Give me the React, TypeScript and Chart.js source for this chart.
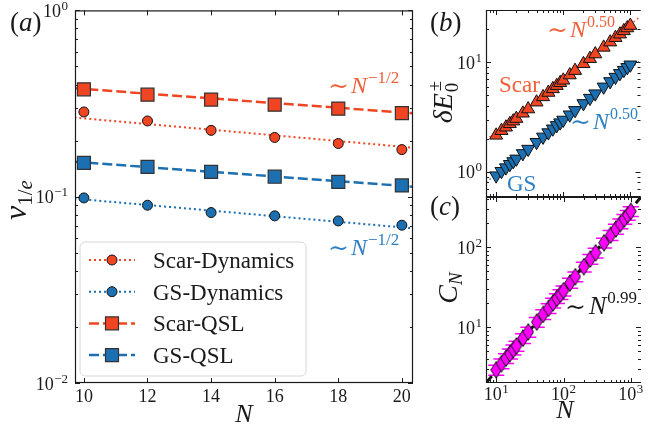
import React, { useEffect, useRef } from 'react';
import { Chart, registerables } from 'chart.js';
Chart.register(...registerables);

const W = 649;
const H = 433;
const ORANGE = '#ef4523';
const BLUE = '#1c6fb0';
const ORANGE_TXT = '#f0603a';
const BLUE_TXT = '#2f80c2';
const MAGENTA = '#ff00ff';
const INK = '#1a1a1a';
const SERIF = '"Liberation Serif", "DejaVu Serif", serif';
const SYM = '"DejaVu Serif", serif';

// ---------- panel (a) data ----------
const N_A = [10, 12, 14, 16, 18, 20];
const SCAR_DYN = [0.285, 0.255, 0.227, 0.208, 0.193, 0.179];
const GS_DYN = [0.0985, 0.09, 0.0822, 0.0789, 0.0741, 0.0703];
const SCAR_QSL = [0.377, 0.353, 0.332, 0.312, 0.297, 0.281];
const GS_QSL = [0.152, 0.1445, 0.136, 0.128, 0.12, 0.115];
const FIT_X_A = [9.7, 20.4];
const SCAR_DYN_FIT = [0.266, 0.183];
const GS_DYN_FIT = [0.0977, 0.0675];
const SCAR_QSL_FIT = [0.382, 0.28];
const GS_QSL_FIT = [0.154, 0.113];
const A_TICKS_X = [10, 12, 14, 16, 18, 20];
const A_TICKS_Y = [1, 0.1, 0.01];
const A_TICK_EXP = ['0', '−1', '−2'];
const LEGEND_LABELS = ['Scar-Dynamics', 'GS-Dynamics', 'Scar-QSL', 'GS-QSL'];

// ---------- panels (b), (c) data ----------
const N_BC = [10, 12, 14, 16, 18, 20, 25, 30, 40, 50, 60, 70, 80, 90, 100, 125, 150, 200, 250, 300, 400, 500, 600, 700, 800, 900, 1000];
const SCAR_GAP = [2.15, 2.37, 2.55, 2.74, 2.9, 3.06, 3.42, 3.74, 4.32, 4.83, 5.3, 5.72, 6.12, 6.5, 6.85, 7.65, 8.4, 9.7, 10.8, 11.9, 13.7, 15.3, 16.8, 18.1, 19.4, 20.6, 21.7];
const GS_GAP = [0.92, 1.01, 1.09, 1.17, 1.24, 1.31, 1.47, 1.61, 1.86, 2.08, 2.28, 2.47, 2.65, 2.81, 2.97, 3.32, 3.64, 4.21, 4.71, 5.17, 5.97, 6.69, 7.33, 7.93, 8.48, 9.0, 9.5];
const C_N = [2.93, 3.52, 4.1, 4.68, 5.25, 5.85, 7.3, 8.75, 11.6, 14.5, 17.3, 20.2, 23.0, 25.9, 28.7, 35.9, 43.0, 57.2, 71.4, 85.5, 114, 142, 170, 198, 226, 254, 282];
const C_N_ERR = [0.41, 0.49, 0.57, 0.66, 0.74, 0.82, 1.02, 1.23, 1.62, 2.03, 2.42, 2.83, 3.22, 3.63, 4.02, 5.03, 6.02, 8.0, 10.0, 12.0, 16.0, 19.9, 23.8, 27.7, 31.6, 35.6, 39.5];
const FIT_X_BC = [7.06, 1416];
const SCAR_GAP_FIT = [1.95, 26.3];
const GS_GAP_FIT = [0.8, 10.4];
const C_N_FIT = [2.01, 426];
const BC_TICKS_X = [10, 100, 1000];
const BC_TICK_EXP = ['1', '2', '3'];
const B_TICKS_Y = [1, 10];
const B_TICK_EXP = ['0', '1'];
const C_TICKS_Y = [10, 100];
const C_TICK_EXP = ['1', '2'];

type Part = { t: string; size: number; it?: boolean; dy?: number; dx?: number; stack?: boolean; fam?: string };

const fontOf = (p: Part) => `${p.it ? 'italic ' : ''}${p.size}px ${p.fam || SERIF}`;

function measureRich(ctx: CanvasRenderingContext2D, parts: Part[]) {
  let w = 0;
  let x = 0;
  for (const p of parts) {
    ctx.font = fontOf(p);
    x += p.dx || 0;
    const pw = ctx.measureText(p.t).width;
    w = Math.max(w, x + pw);
    if (!p.stack) x += pw;
  }
  return w;
}

function drawRich(ctx: CanvasRenderingContext2D, parts: Part[], x: number, y: number, align: 'left' | 'center' | 'right', color: string) {
  const w = measureRich(ctx, parts);
  let cx = align === 'left' ? x : align === 'center' ? x - w / 2 : x - w;
  ctx.save();
  ctx.fillStyle = color;
  ctx.textAlign = 'left';
  ctx.textBaseline = 'alphabetic';
  for (const p of parts) {
    ctx.font = fontOf(p);
    cx += p.dx || 0;
    ctx.fillText(p.t, cx, y + (p.dy || 0));
    if (!p.stack) cx += ctx.measureText(p.t).width;
  }
  ctx.restore();
}

function drawRotated(ctx: CanvasRenderingContext2D, parts: Part[], x: number, y: number, color: string) {
  ctx.save();
  ctx.translate(x, y);
  ctx.rotate(-Math.PI / 2);
  drawRich(ctx, parts, 0, 0, 'center', color);
  ctx.restore();
}

function logMinor(min: number, max: number) {
  const out: number[] = [];
  for (let d = Math.floor(Math.log10(min)); d <= Math.ceil(Math.log10(max)); d++) {
    for (let m = 2; m <= 9; m++) {
      const v = m * Math.pow(10, d);
      if (v > min && v < max) out.push(v);
    }
  }
  return out;
}

function ticksX(ctx: CanvasRenderingContext2D, chart: any, values: number[], len: number) {
  const xs = chart.scales.x;
  const a = chart.chartArea;
  ctx.beginPath();
  for (const v of values) {
    const px = Math.round(xs.getPixelForValue(v)) + 0.5;
    ctx.moveTo(px, a.bottom);
    ctx.lineTo(px, a.bottom - len);
    ctx.moveTo(px, a.top);
    ctx.lineTo(px, a.top + len);
  }
  ctx.stroke();
}

function ticksY(ctx: CanvasRenderingContext2D, chart: any, values: number[], len: number) {
  const ys = chart.scales.y;
  const a = chart.chartArea;
  ctx.beginPath();
  for (const v of values) {
    const py = Math.round(ys.getPixelForValue(v)) + 0.5;
    ctx.moveTo(a.left, py);
    ctx.lineTo(a.left + len, py);
    ctx.moveTo(a.right, py);
    ctx.lineTo(a.right - len, py);
  }
  ctx.stroke();
}

const pts = (xs: number[], ys: number[]) => xs.map((x, i) => ({ x, y: ys[i] }));

function baseOptions(area: { l: number; t: number; r: number; b: number }, x: any, y: any) {
  return {
    responsive: false,
    animation: false as const,
    devicePixelRatio: 1,
    events: [] as any[],
    layout: { padding: { left: area.l, top: area.t, right: W - area.r, bottom: H - area.b } },
    plugins: { legend: { display: false }, tooltip: { enabled: false } },
    scales: { x: { ...x, display: false }, y: { ...y, display: false } },
  };
}

const sim = (size: number): Part => ({ t: '∼', size, fam: SYM, dy: 1 });

// ---------- panel (a) ----------
function makeA(canvas: HTMLCanvasElement) {
  const plugin = {
    id: 'panelA',
    afterDraw(chart: any) {
      const { ctx, chartArea: a, scales } = chart;
      const x = scales.x;
      const y = scales.y;
      ctx.save();
      ctx.strokeStyle = INK;
      ctx.lineWidth = 1;
      ticksX(ctx, chart, A_TICKS_X, 5);
      ticksY(ctx, chart, A_TICKS_Y, 5);
      ticksY(ctx, chart, logMinor(y.min, y.max), 3);
      ctx.lineWidth = 1.2;
      ctx.strokeRect(a.left + 0.5, a.top + 0.5, a.right - a.left - 1, a.bottom - a.top - 1);
      ctx.restore();

      A_TICKS_X.forEach((v) => drawRich(ctx, [{ t: String(v), size: 18 }], x.getPixelForValue(v), a.bottom + 19, 'center', INK));
      A_TICKS_Y.forEach((v, i) =>
        drawRich(ctx, [{ t: '10', size: 18 }, { t: A_TICK_EXP[i], size: 13, dy: -7, dx: 0.5 }], a.left - 7, y.getPixelForValue(v) + 6.5, 'right', INK)
      );
      drawRich(ctx, [{ t: 'N', size: 26, it: true }], (a.left + a.right) / 2, 422, 'center', INK);
      drawRotated(ctx, [{ t: 'v', size: 32, it: true }, { t: '1/', size: 21, dy: 6 }, { t: 'e', size: 21, it: true, dy: 6 }], 26, 200, INK);
      drawRich(ctx, [{ t: '(', size: 27 }, { t: 'a', size: 27, it: true }, { t: ')', size: 27 }], 10, 31, 'left', INK);

      drawRich(ctx, [sim(25), { t: 'N', size: 24, it: true, dx: 2 }, { t: '−1/2', size: 17, dy: -10, dx: 1 }], 328, 93, 'left', ORANGE_TXT);
      drawRich(ctx, [sim(25), { t: 'N', size: 24, it: true, dx: 2 }, { t: '−1/2', size: 17, dy: -10, dx: 1 }], 328, 255, 'left', BLUE_TXT);

      // legend
      ctx.save();
      const bx = 80, by = 242, bw = 226, bh = 134, r = 5;
      ctx.beginPath();
      ctx.moveTo(bx + r, by);
      ctx.arcTo(bx + bw, by, bx + bw, by + bh, r);
      ctx.arcTo(bx + bw, by + bh, bx, by + bh, r);
      ctx.arcTo(bx, by + bh, bx, by, r);
      ctx.arcTo(bx, by, bx + bw, by, r);
      ctx.closePath();
      ctx.fillStyle = 'rgba(255,255,255,0.85)';
      ctx.fill();
      ctx.strokeStyle = '#d6d6d6';
      ctx.lineWidth = 1;
      ctx.stroke();
      const rows = [
        { c: ORANGE, dash: [2, 3], lw: 2, m: 'circle' },
        { c: BLUE, dash: [2, 3], lw: 2, m: 'circle' },
        { c: ORANGE, dash: [10, 4], lw: 2.5, m: 'rect' },
        { c: BLUE, dash: [10, 4], lw: 2.5, m: 'rect' },
      ];
      rows.forEach((row, i) => {
        const ry = 260 + i * 31.7;
        ctx.beginPath();
        ctx.setLineDash(row.dash);
        ctx.strokeStyle = row.c;
        ctx.lineWidth = row.lw;
        ctx.moveTo(89, ry);
        ctx.lineTo(135, ry);
        ctx.stroke();
        ctx.setLineDash([]);
        ctx.beginPath();
        if (row.m === 'circle') ctx.arc(112, ry, 5, 0, Math.PI * 2);
        else ctx.rect(105.5, ry - 6.5, 13, 13);
        ctx.fillStyle = row.c;
        ctx.fill();
        ctx.strokeStyle = row.m === 'circle' ? '#111' : '#333';
        ctx.lineWidth = row.m === 'circle' ? 1 : 1.2;
        ctx.stroke();
        drawRich(ctx, [{ t: LEGEND_LABELS[i], size: 23 }], 153, ry + 8, 'left', INK);
      });
      ctx.restore();
    },
  };
  return new Chart(canvas, {
    type: 'scatter',
    data: {
      datasets: [
        { data: pts(N_A, SCAR_QSL), pointStyle: 'rect', pointRadius: 9.2, pointBackgroundColor: ORANGE, pointBorderColor: '#333', pointBorderWidth: 1.2, order: 0 },
        { data: pts(N_A, GS_QSL), pointStyle: 'rect', pointRadius: 9.2, pointBackgroundColor: BLUE, pointBorderColor: '#333', pointBorderWidth: 1.2, order: 0 },
        { data: pts(N_A, SCAR_DYN), pointStyle: 'circle', pointRadius: 5, pointBackgroundColor: ORANGE, pointBorderColor: '#111', pointBorderWidth: 1, order: 0 },
        { data: pts(N_A, GS_DYN), pointStyle: 'circle', pointRadius: 5, pointBackgroundColor: BLUE, pointBorderColor: '#111', pointBorderWidth: 1, order: 0 },
        { data: pts(FIT_X_A, SCAR_QSL_FIT), showLine: true, pointRadius: 0, borderColor: ORANGE, borderWidth: 2.5, borderDash: [10, 4], order: 1 },
        { data: pts(FIT_X_A, GS_QSL_FIT), showLine: true, pointRadius: 0, borderColor: BLUE, borderWidth: 2.5, borderDash: [10, 4], order: 1 },
        { data: pts(FIT_X_A, SCAR_DYN_FIT), showLine: true, pointRadius: 0, borderColor: ORANGE, borderWidth: 2, borderDash: [2, 3], order: 1 },
        { data: pts(FIT_X_A, GS_DYN_FIT), showLine: true, pointRadius: 0, borderColor: BLUE, borderWidth: 2, borderDash: [2, 3], order: 1 },
      ] as any,
    },
    options: baseOptions({ l: 75, t: 10, r: 413, b: 383 }, { type: 'linear', min: 9.72, max: 20.35 }, { type: 'logarithmic', min: 0.01, max: 1 }) as any,
    plugins: [plugin],
  });
}

// ---------- panel (b) ----------
function makeB(canvas: HTMLCanvasElement) {
  const plugin = {
    id: 'panelB',
    afterDraw(chart: any) {
      const { ctx, chartArea: a, scales } = chart;
      const x = scales.x;
      const y = scales.y;
      ctx.save();
      ctx.strokeStyle = INK;
      ctx.lineWidth = 1;
      ticksX(ctx, chart, BC_TICKS_X, 5);
      ticksX(ctx, chart, logMinor(x.min, x.max), 3);
      ticksY(ctx, chart, B_TICKS_Y, 5);
      ticksY(ctx, chart, logMinor(y.min, y.max), 3);
      ctx.lineWidth = 1.2;
      ctx.beginPath();
      ctx.moveTo(a.right, a.top + 0.5);
      ctx.lineTo(a.left + 0.5, a.top + 0.5);
      ctx.lineTo(a.left + 0.5, a.bottom - 0.5);
      ctx.lineTo(a.right, a.bottom - 0.5);
      ctx.stroke();
      ctx.restore();

      B_TICKS_Y.forEach((v, i) =>
        drawRich(ctx, [{ t: '10', size: 18 }, { t: B_TICK_EXP[i], size: 13, dy: -7, dx: 0.5 }], a.left - 4, y.getPixelForValue(v) + 6.5, 'right', INK)
      );
      drawRotated(
        ctx,
        [
          { t: 'δE', size: 28, it: true },
          { t: '0', size: 19, dy: 6, dx: 1, stack: true },
          { t: '±', size: 19, dy: -11, dx: 1 },
        ],
        452,
        102,
        INK
      );
      drawRich(ctx, [{ t: '(', size: 27 }, { t: 'b', size: 27, it: true }, { t: ')', size: 27 }], 430, 31, 'left', INK);
      drawRich(ctx, [sim(25), { t: 'N', size: 24, it: true, dx: 2 }, { t: '0.50', size: 16, dy: -10, dx: 1 }], 547, 37, 'left', ORANGE_TXT);
      drawRich(ctx, [{ t: 'Scar', size: 23 }], 499, 92, 'left', ORANGE_TXT);
      drawRich(ctx, [sim(25), { t: 'N', size: 24, it: true, dx: 2 }, { t: '0.50', size: 16, dy: -10, dx: 1 }], 570, 129, 'left', BLUE_TXT);
      drawRich(ctx, [{ t: 'GS', size: 23 }], 507, 191, 'left', BLUE_TXT);
    },
  };
  return new Chart(canvas, {
    type: 'scatter',
    data: {
      datasets: [
        { data: pts(N_BC, SCAR_GAP), pointStyle: 'triangle', pointRadius: 7.5, pointBackgroundColor: ORANGE, pointBorderColor: '#111', pointBorderWidth: 1, order: 0 },
        { data: pts(N_BC, GS_GAP), pointStyle: 'triangle', pointRotation: 180, pointRadius: 7.5, pointBackgroundColor: BLUE, pointBorderColor: '#111', pointBorderWidth: 1, order: 0 },
        { data: pts(FIT_X_BC, SCAR_GAP_FIT), showLine: true, pointRadius: 0, borderColor: ORANGE, borderWidth: 1.5, borderDash: [1.5, 3], order: 1 },
        { data: pts(FIT_X_BC, GS_GAP_FIT), showLine: true, pointRadius: 0, borderColor: BLUE, borderWidth: 1.5, borderDash: [1.5, 3], order: 1 },
      ] as any,
    },
    options: baseOptions({ l: 486, t: 10, r: 649, b: 197 }, { type: 'logarithmic', min: 7.06, max: 1416 }, { type: 'logarithmic', min: 0.587, max: 30.1 }) as any,
    plugins: [plugin],
  });
}

// ---------- panel (c) ----------
function diamondImage() {
  const c = document.createElement('canvas');
  c.width = 12;
  c.height = 18;
  const g = c.getContext('2d')!;
  g.beginPath();
  g.moveTo(6, 0.7);
  g.lineTo(11.3, 9);
  g.lineTo(6, 17.3);
  g.lineTo(0.7, 9);
  g.closePath();
  g.fillStyle = MAGENTA;
  g.fill();
  g.strokeStyle = '#111';
  g.lineWidth = 1;
  g.stroke();
  return c;
}

function makeC(canvas: HTMLCanvasElement) {
  const plugin = {
    id: 'panelC',
    beforeDatasetsDraw(chart: any) {
      const { ctx, chartArea: a, scales } = chart;
      const x = scales.x;
      const y = scales.y;
      ctx.save();
      ctx.beginPath();
      ctx.rect(a.left, a.top, a.right - a.left, a.bottom - a.top);
      ctx.clip();
      ctx.strokeStyle = MAGENTA;
      ctx.lineWidth = 1.5;
      ctx.beginPath();
      N_BC.forEach((n, i) => {
        const px = x.getPixelForValue(n);
        const yt = y.getPixelForValue(C_N[i] + C_N_ERR[i]);
        const yb = y.getPixelForValue(C_N[i] - C_N_ERR[i]);
        ctx.moveTo(px, yt);
        ctx.lineTo(px, yb);
        ctx.moveTo(px - 8, yt);
        ctx.lineTo(px + 8, yt);
        ctx.moveTo(px - 8, yb);
        ctx.lineTo(px + 8, yb);
      });
      ctx.stroke();
      ctx.restore();
    },
    afterDraw(chart: any) {
      const { ctx, chartArea: a, scales } = chart;
      const x = scales.x;
      const y = scales.y;
      ctx.save();
      ctx.strokeStyle = INK;
      ctx.lineWidth = 1;
      ticksX(ctx, chart, BC_TICKS_X, 5);
      ticksX(ctx, chart, logMinor(x.min, x.max), 3);
      ticksY(ctx, chart, C_TICKS_Y, 5);
      ticksY(ctx, chart, logMinor(y.min, y.max), 3);
      ctx.lineWidth = 1.2;
      ctx.beginPath();
      ctx.moveTo(a.right, a.top + 0.5);
      ctx.lineTo(a.left + 0.5, a.top + 0.5);
      ctx.lineTo(a.left + 0.5, a.bottom - 0.5);
      ctx.lineTo(a.right, a.bottom - 0.5);
      ctx.stroke();
      ctx.restore();

      C_TICKS_Y.forEach((v, i) =>
        drawRich(ctx, [{ t: '10', size: 18 }, { t: C_TICK_EXP[i], size: 13, dy: -7, dx: 0.5 }], a.left - 4, y.getPixelForValue(v) + 6.5, 'right', INK)
      );
      BC_TICKS_X.forEach((v, i) =>
        drawRich(ctx, [{ t: '10', size: 18 }, { t: BC_TICK_EXP[i], size: 13, dy: -7, dx: 0.5 }], x.getPixelForValue(v), a.bottom + 17, 'center', INK)
      );
      drawRich(ctx, [{ t: 'N', size: 26, it: true }], 565, 418, 'center', INK);
      drawRotated(ctx, [{ t: 'C', size: 28, it: true }, { t: 'N', size: 19, it: true, dy: 5 }], 457, 288, INK);
      drawRich(ctx, [{ t: '(', size: 27 }, { t: 'c', size: 27, it: true }, { t: ')', size: 27 }], 430, 215, 'left', INK);
      drawRich(ctx, [sim(25), { t: 'N', size: 26, it: true, dx: 3 }, { t: '0.99', size: 17, dy: -11, dx: 1 }], 565, 314, 'left', INK);
    },
  };
  return new Chart(canvas, {
    type: 'scatter',
    data: {
      datasets: [
        { data: pts(N_BC, C_N), pointStyle: diamondImage(), pointRadius: 7, order: 0 },
        { data: pts(FIT_X_BC, C_N_FIT), showLine: true, pointRadius: 0, borderColor: '#111', borderWidth: 3, borderDash: [9, 4], order: 1 },
      ] as any,
    },
    options: baseOptions({ l: 486, t: 197, r: 649, b: 383 }, { type: 'logarithmic', min: 7.06, max: 1416 }, { type: 'logarithmic', min: 2.01, max: 426 }) as any,
    plugins: [plugin],
  });
}

export default function App() {
  const refA = useRef<HTMLCanvasElement>(null);
  const refB = useRef<HTMLCanvasElement>(null);
  const refC = useRef<HTMLCanvasElement>(null);
  useEffect(() => {
    const charts = [makeA(refA.current!), makeB(refB.current!), makeC(refC.current!)];
    return () => charts.forEach((c) => c.destroy());
  }, []);
  const st: React.CSSProperties = { position: 'absolute', left: 0, top: 0, width: W, height: H };
  return (
    <div style={{ position: 'absolute', left: 0, top: 0, width: W, height: H, background: '#fff', overflow: 'hidden' }}>
      <canvas ref={refA} width={W} height={H} style={st} />
      <canvas ref={refB} width={W} height={H} style={st} />
      <canvas ref={refC} width={W} height={H} style={st} />
    </div>
  );
}
